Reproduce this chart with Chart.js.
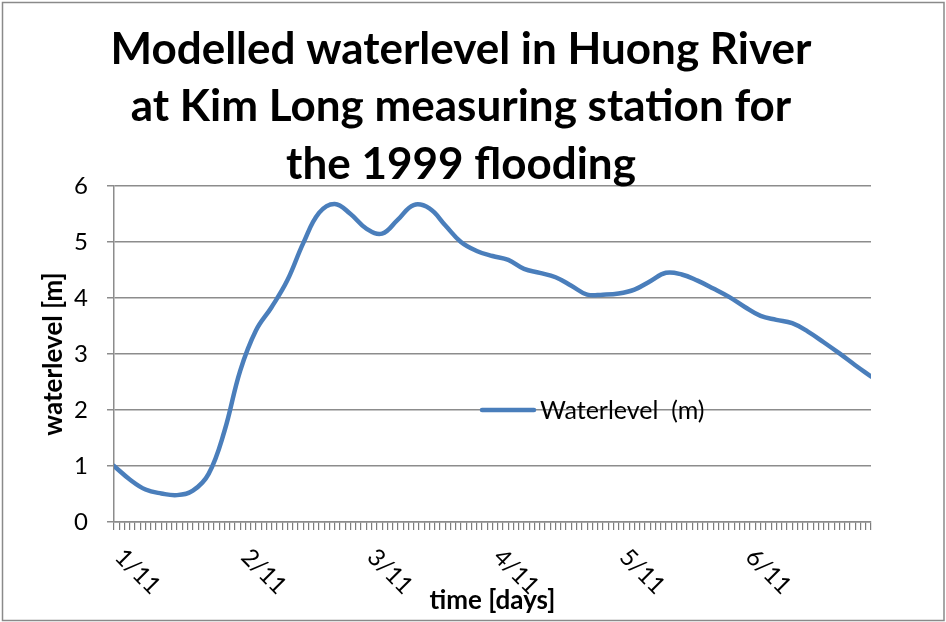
<!DOCTYPE html>
<html>
<head>
<meta charset="utf-8">
<title>Huong River waterlevel</title>
<script src="https://cdn.jsdelivr.net/npm/chart.js@4.4.1/dist/chart.umd.min.js"></script>
<style>
  html, body { margin: 0; padding: 0; background: #ffffff; }
  #wrap { width: 946px; height: 622px; }
</style>
</head>
<body>
<div id="wrap"><canvas id="chart" width="946" height="622"></canvas></div>
<script>
// ---- chart text ----
const titleLines = [
  'Modelled waterlevel in Huong River',
  'at Kim Long measuring station for',
  'the 1999 flooding'
];
const seriesName = 'Waterlevel  (m)';
const xAxisTitle = 'time [days]';
const yAxisTitle = 'waterlevel [m]';

// ---- x axis: hours since 1/11 00:00, one tick per hour, a label per day ----
const dayLabels = ['1/11', '2/11', '3/11', '4/11', '5/11', '6/11'];
const hoursPerDay = 24;
const hourMax = 144;

// ---- modelled waterlevel [m], sampled every 3 hours ----
const hours = [
    0,   3,   6,   9,  12,  15,  18,  21,  24,  27,
   30,  33,  36,  39,  42,  45,  48,  51,  54,  57,
   60,  63,  66,  69,  72,  75,  78,  81,  84,  87,
   90,  93,  96,  99, 102, 105, 108, 111, 114, 117,
  120, 123, 126, 129, 132, 135, 138, 141, 144
];
const waterlevel = [
  1.00, 0.76, 0.58, 0.51, 0.48, 0.56, 0.86, 1.62, 2.70, 3.42,
  3.84, 4.32, 4.98, 5.52, 5.68, 5.50, 5.24, 5.15, 5.40, 5.66,
  5.60, 5.30, 5.00, 4.84, 4.75, 4.68, 4.52, 4.45, 4.37, 4.22,
  4.06, 4.06, 4.08, 4.15, 4.30, 4.45, 4.42, 4.31, 4.17, 4.02,
  3.84, 3.68, 3.61, 3.55, 3.40, 3.21, 3.01, 2.80, 2.60
];

// ---- y axis ----
const yMin = 0, yMax = 6, yStep = 1;

const LINE_COLOR = '#4a7ebb';
const GRID_COLOR = '#8c8c8c';
const FONT = "Lato, 'Open Sans', 'Noto Sans', sans-serif";
const TEXT_SIZE = 24;
const LEGEND_SIZE = 25;
const AXIS_TITLE_SIZE = 26;

// white page, outer frame and the three-line heading
const framePlugin = {
  id: 'frame',
  beforeDraw(chart) {
    const ctx = chart.ctx;
    ctx.save();
    ctx.fillStyle = '#ffffff';
    ctx.fillRect(0, 0, chart.width, chart.height);
    ctx.restore();
  },
  afterDraw(chart) {
    const ctx = chart.ctx;
    ctx.save();
    ctx.strokeStyle = '#8a8a8a';
    ctx.lineWidth = 1.5;
    ctx.strokeRect(2.5, 2.5, 941.5, 618);

    ctx.fillStyle = '#000000';
    ctx.font = 'bold 44px ' + FONT;
    ctx.textAlign = 'center';
    ctx.textBaseline = 'alphabetic';
    const baselines = [64, 121, 179];
    titleLines.forEach((t, i) => ctx.fillText(t, 461, baselines[i]));
    ctx.restore();
  }
};

// day labels on the time axis, slanted downwards to the right from each day's tick
const dayLabelPlugin = {
  id: 'dayLabels',
  afterDraw(chart) {
    const ctx = chart.ctx;
    const xs = chart.scales.x;
    ctx.save();
    ctx.fillStyle = '#000000';
    ctx.font = TEXT_SIZE + 'px ' + FONT;
    ctx.textAlign = 'left';
    ctx.textBaseline = 'middle';
    dayLabels.forEach((lab, i) => {
      const px = xs.getPixelForValue(i * hoursPerDay);
      ctx.save();
      ctx.translate(px + 5, xs.top + 31);
      ctx.rotate(Math.PI / 4);
      ctx.fillText(lab, 0, 0);
      ctx.restore();
    });
    ctx.restore();
  }
};

// legend entry sitting inside the plot area
const insideLegendPlugin = {
  id: 'insideLegend',
  afterDraw(chart) {
    const ctx = chart.ctx;
    const ds = chart.data.datasets[0];
    const y = 410;
    ctx.save();
    ctx.strokeStyle = ds.borderColor;
    ctx.lineWidth = ds.borderWidth;
    ctx.lineCap = 'round';
    ctx.beginPath();
    ctx.moveTo(482, y);
    ctx.lineTo(534, y);
    ctx.stroke();
    ctx.fillStyle = '#000000';
    ctx.font = LEGEND_SIZE + 'px ' + FONT;
    ctx.textAlign = 'left';
    ctx.textBaseline = 'middle';
    ctx.fillText(ds.label, 540, y + 1);
    ctx.restore();
  }
};

new Chart(document.getElementById('chart'), {
  type: 'line',
  data: {
    datasets: [{
      label: seriesName,
      data: hours.map((h, i) => ({ x: h, y: waterlevel[i] })),
      borderColor: LINE_COLOR,
      backgroundColor: LINE_COLOR,
      borderWidth: 4.5,
      borderCapStyle: 'round',
      borderJoinStyle: 'round',
      pointRadius: 0,
      pointHoverRadius: 0,
      tension: 0.4,
      fill: false
    }]
  },
  options: {
    responsive: false,
    devicePixelRatio: 1,
    animation: false,
    events: [],
    layout: { padding: { left: 6, right: 75, top: 186, bottom: 6 } },
    plugins: {
      legend: { display: false },
      title: { display: false },
      tooltip: { enabled: false }
    },
    scales: {
      x: {
        type: 'linear',
        min: 0,
        max: hourMax,
        ticks: { display: false, stepSize: 1, maxTicksLimit: 400, autoSkip: false },
        grid: {
          drawOnChartArea: false,
          drawTicks: true,
          tickLength: 8,
          color: '#7d7d7d',
          lineWidth: 1.2
        },
        border: { display: true, color: GRID_COLOR, width: 1.5 },
        title: {
          display: true,
          text: xAxisTitle,
          color: '#000000',
          font: { family: FONT, size: AXIS_TITLE_SIZE, weight: 'bold' },
          padding: { top: 0, bottom: 0 }
        },
        afterFit(scale) { scale.height = 94; }
      },
      y: {
        min: yMin,
        max: yMax,
        ticks: {
          stepSize: yStep,
          padding: 19,
          color: '#000000',
          font: { family: FONT, size: TEXT_SIZE }
        },
        grid: {
          color: GRID_COLOR,
          lineWidth: 1.5,
          tickLength: 7
        },
        border: { display: true, color: GRID_COLOR, width: 1.5 },
        title: {
          display: true,
          text: yAxisTitle,
          color: '#000000',
          font: { family: FONT, size: AXIS_TITLE_SIZE, weight: 'bold' },
          padding: { top: 32, bottom: 0 }
        },
        afterFit(scale) { scale.width = 108; }
      }
    }
  },
  plugins: [framePlugin, dayLabelPlugin, insideLegendPlugin]
});
</script>
</body>
</html>
